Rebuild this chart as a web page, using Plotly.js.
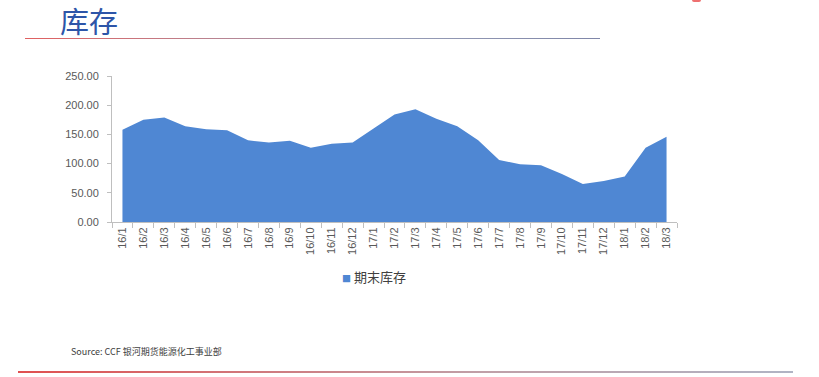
<!DOCTYPE html>
<html>
<head>
<meta charset="utf-8">
<script src="https://cdn.plot.ly/plotly-3.0.1.min.js"></script>
<style>
html,body{margin:0;padding:0;background:#fff;}
#wrap{position:relative;width:819px;height:377px;overflow:hidden;}
#chart{width:819px;height:377px;}
.deco{position:absolute;pointer-events:none;}
</style>
</head>
<body>
<div id="wrap">
<div id="chart"></div>
<div class="deco" style="left:25px;top:38px;width:575px;height:1px;background:linear-gradient(to right,#e06060,#9aa0b8 60%,#7f86a8);"></div>
<div class="deco" style="left:18px;top:371px;width:775px;height:2px;background:linear-gradient(to right,#e05050,#c0a0a8 60%,#b0b4c4);"></div>
<div class="deco" style="left:692px;top:0px;width:9px;height:2px;background:#ee7070;border-radius:0 0 4px 4px;"></div>
</div>
<script>
const categories = ["16/1","16/2","16/3","16/4","16/5","16/6","16/7","16/8","16/9","16/10","16/11","16/12",
  "17/1","17/2","17/3","17/4","17/5","17/6","17/7","17/8","17/9","17/10","17/11","17/12",
  "18/1","18/2","18/3"];
const inventory = [158,175,179,164,159,157,140,136,139,127,134,136,
  160,184,193,177,164,140,106,99,97,82,65,70,78,127,146];
const seriesName = "期末库存";
const titleText = "库存";
const sourceText = "Source: CCF 银河期货能源化工事业部";
const fillColor = '#4f87d3';

const L = 111.5, R = 677, T = 75.7, B = 221.7;
const px = x => (x - L) / (R - L);
const py = y => (B - y) / (B - T);

const trace = {
  x: categories, y: inventory, type: 'scatter', mode: 'none',
  fill: 'tozeroy', fillcolor: fillColor, name: seriesName,
  line: {shape: 'linear'}, hoverinfo: 'x+y', showlegend: false
};

const layout = {
  width: 819, height: 377,
  margin: {l: L, r: 819 - R, t: T, b: 377 - B},
  paper_bgcolor: '#ffffff', plot_bgcolor: '#ffffff',
  font: {family: 'Liberation Sans, "Noto Sans CJK SC", sans-serif', color: '#595959', size: 11},
  showlegend: false,
  xaxis: {type: 'category', range: [-0.5, 26.5], showgrid: false, zeroline: false,
    showline: true, linecolor: '#bfbfbf', linewidth: 1,
    ticks: 'outside', ticklen: 5, tickcolor: '#bfbfbf', tickson: 'boundaries',
    tickangle: -90, tickfont: {size: 11, color: '#595959'}},
  yaxis: {range: [0, 250], dtick: 50, tickformat: '.2f', showgrid: false, zeroline: false,
    showline: true, linecolor: '#bfbfbf', linewidth: 1,
    ticks: 'outside', ticklen: 4, tickcolor: '#bfbfbf', ticklabelstandoff: 6,
    tickfont: {size: 11, color: '#595959'}},
  annotations: [
    {text: titleText, xref: 'paper', yref: 'paper', x: px(57), y: py(20), xanchor: 'left', yanchor: 'middle',
     showarrow: false, font: {family: '"Noto Sans CJK SC", sans-serif', size: 29, color: '#2d55a8'}},
    {text: '<span style="color:' + fillColor + ';font-size:9px">■</span> ' + seriesName,
     xref: 'paper', yref: 'paper', x: px(340), y: py(276), xanchor: 'left', yanchor: 'middle',
     showarrow: false, font: {family: '"Noto Sans CJK SC", sans-serif', size: 13, color: '#404040'}},
    {text: sourceText, xref: 'paper', yref: 'paper', x: px(68), y: py(351), xanchor: 'left', yanchor: 'middle',
     showarrow: false, font: {family: '"Noto Sans CJK SC", sans-serif', size: 9, color: '#404040'}}
  ]
};

Plotly.newPlot('chart', [trace], layout, {displayModeBar: false, staticPlot: true});
</script>
</body>
</html>
